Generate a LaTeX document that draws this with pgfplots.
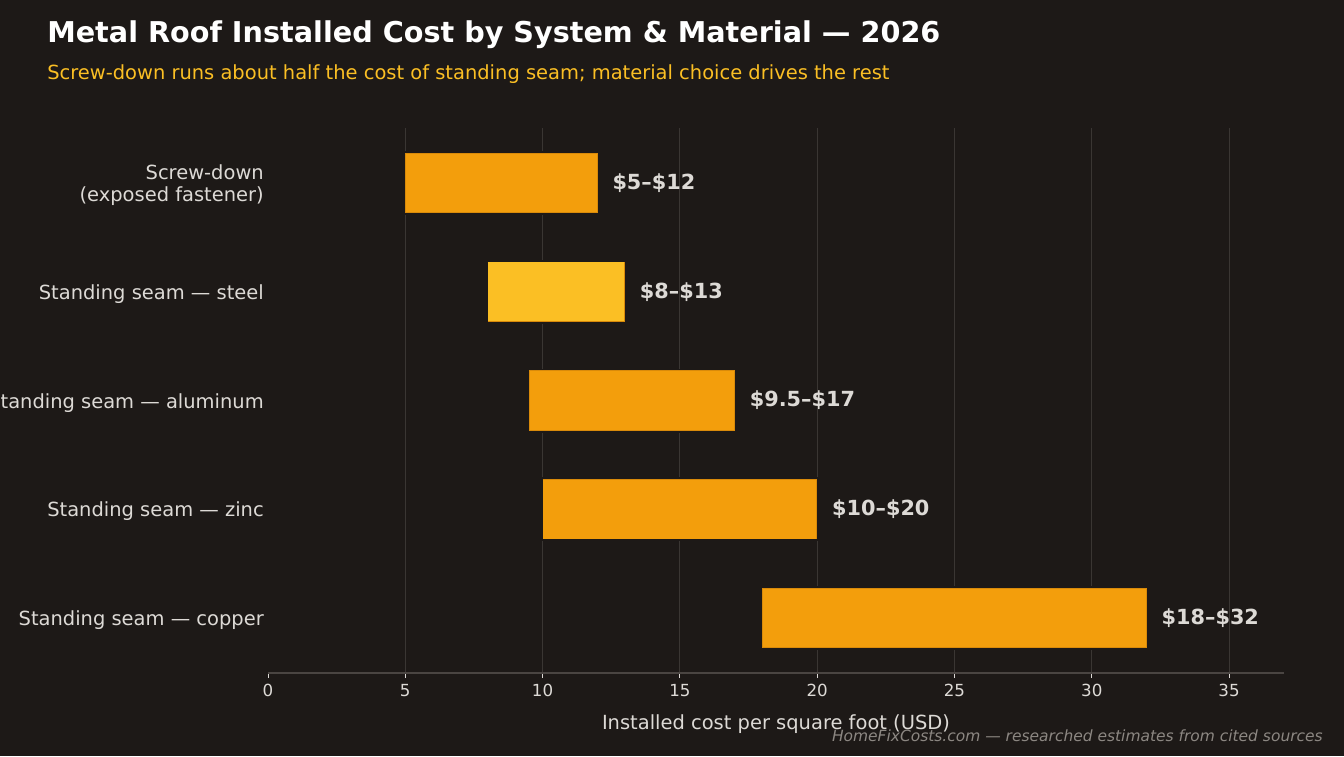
\documentclass[border=0pt]{standalone}
\usepackage{pgfplots}
\pgfplotsset{compat=1.18}
\usepackage{fontspec}
\setmainfont{DejaVu Sans}

\definecolor{bg}{HTML}{1D1917}
\definecolor{gridc}{HTML}{3A3633}
\definecolor{spinec}{HTML}{4A4542}
\definecolor{txt}{HTML}{DDDAD6}
\definecolor{barOrange}{HTML}{F39E0C}
\definecolor{barAmber}{HTML}{FBBF24}
\definecolor{barEdge}{HTML}{D98A0A}
\definecolor{subc}{HTML}{FBBF24}
\definecolor{footc}{HTML}{8C8782}

% dark halo behind a range bar, so the grid stops short of it
\newcommand{\barhalo}[3]{%
  \addplot[draw=bg, line width=48pt, shorten <=-2pt, shorten >=-2pt, forget plot]
    coordinates {(#1,#3) (#2,#3)};}
% one range bar from low (#1) to high (#2) at category #3
\newcommand{\rangebar}[5]{%
  \addplot[draw=barEdge, line width=45.2pt, forget plot]
    coordinates {(#1,#3) (#2,#3)};
  \addplot[draw=#4, line width=44pt, shorten <=0.6pt, shorten >=0.6pt, forget plot]
    coordinates {(#1,#3) (#2,#3)};
  \addplot[draw=none, forget plot]
    coordinates {(#1,#3) (#2,#3)}
    node[pos=1, anchor=west, inner sep=0pt, outer sep=0pt, xshift=11.25pt, text=txt,
         font=\fontsize{15.6}{18}\selectfont\bfseries] {#5};}

\begin{document}
\begin{tikzpicture}
\fill[bg] (0,0) rectangle (1008pt,567pt);
\useasboundingbox (0,0) rectangle (1008pt,567pt);

\node[anchor=base west, inner sep=0pt, text=white, font=\fontsize{21.5}{25}\selectfont\bfseries]
  at (35.25pt,535pt) {Metal Roof Installed Cost by System \& Material — 2026};
\node[anchor=base west, inner sep=0pt, text=subc, font=\fontsize{14.6}{17}\selectfont]
  at (35.25pt,507pt) {Screw-down runs about half the cost of standing seam; material choice drives the rest};

\begin{axis}[
  at={(201pt,62.25pt)}, anchor=south west,
  scale only axis, width=762pt, height=408.75pt,
  xmin=0, xmax=37, ymin=-0.507, ymax=4.507, y dir=reverse,
  axis background/.style={fill=bg},
  axis x line*=bottom, axis y line*=left,
  x axis line style={draw=spinec, line width=0.8pt},
  y axis line style={draw=none},
  xtick={0,5,...,35},
  minor xtick={5,10,...,35},
  ytick={0,1,2,3,4},
  yticklabels={{Screw-down\\(exposed fastener)},
               {Standing seam — steel},
               {Standing seam — aluminum},
               {Standing seam — zinc},
               {Standing seam — copper}},
  minor x grid style={draw=gridc, line width=0.75pt},
  xminorgrids,
  minor tick length=0pt,
  tick align=outside, major tick length=3.75pt,
  x tick style={draw=txt, line width=0.6pt},
  y tick style={draw=none},
  xticklabel style={text=txt, font=\fontsize{12.5}{15}\selectfont, yshift=-1pt},
  yticklabel style={text=txt, font=\fontsize{14.6}{16.5}\selectfont, align=right,
                    inner sep=0pt, xshift=0.75pt, yshift=-1.6pt},
  /pgf/number format/assume math mode=true,
  xlabel={Installed cost per square foot (USD)},
  xlabel style={text=txt, font=\fontsize{14.6}{17}\selectfont,
                at={(axis description cs:0.5,0)}, anchor=base, yshift=-42pt},
  clip=false,
]
\barhalo{5}{12}{0}
\barhalo{8}{13}{1}
\barhalo{9.5}{17}{2}
\barhalo{10}{20}{3}
\barhalo{18}{32}{4}
\rangebar{5}{12}{0}{barOrange}{\$5–\$12}
\rangebar{8}{13}{1}{barAmber}{\$8–\$13}
\rangebar{9.5}{17}{2}{barOrange}{\$9.5–\$17}
\rangebar{10}{20}{3}{barOrange}{\$10–\$20}
\rangebar{18}{32}{4}{barOrange}{\$18–\$32}
\end{axis}

\node[anchor=base east, inner sep=0pt, text=footc, font=\fontsize{11.6}{14}\selectfont\itshape]
  at (992.25pt,11.25pt) {HomeFixCosts.com — researched estimates from cited sources};
\end{tikzpicture}
\end{document}
